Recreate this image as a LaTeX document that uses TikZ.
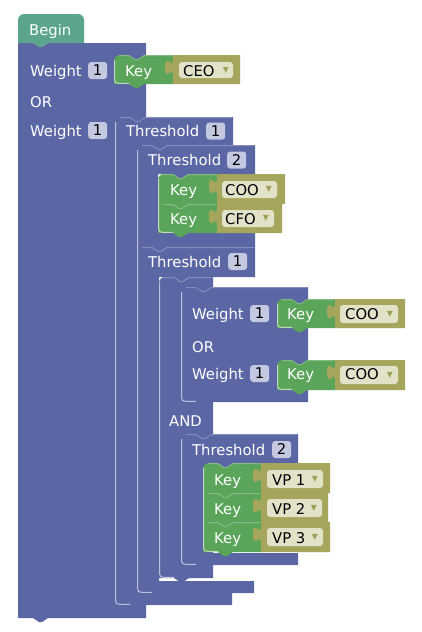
\documentclass[tikz,border=0pt]{standalone}
\usepackage{fontspec}
\setmainfont{DejaVu Sans}
\definecolor{blk}{HTML}{5B67A5}
\definecolor{beg}{HTML}{5BA58C}
\definecolor{grn}{HTML}{5BA55B}
\definecolor{olv}{HTML}{A5A55B}
\definecolor{ddc}{HTML}{E2E2C9}
\definecolor{bdg}{HTML}{C4C8E1}
\definecolor{arrc}{HTML}{9E9E55}
\newcommand\bfnt{\fontsize{14.8}{17}\selectfont}
% rectangular block: color, x0, y0, x1, y1, corner radius
\newcommand\blkR[6]{%
 \fill[#1] (#2,#3+#6) .. controls (#2,#3+0.45*#6) and (#2+0.45*#6,#3) .. (#2+#6,#3)
  -- (#2+15,#3) -- (#2+21,#3+4) -- (#2+24,#3+4) -- (#2+30,#3) -- (#4,#3) -- (#4,#5)
  -- (#2+30,#5) -- (#2+24,#5+4) -- (#2+21,#5+4) -- (#2+15,#5) -- (#2,#5) -- cycle;}
% C-shaped block: x0, y0, x1, yrow, xcol, ybar, xbar, y1, radius
\newcommand\blkC[9]{%
 \fill[blk] (#1,#2+#9) .. controls (#1,#2+0.45*#9) and (#1+0.45*#9,#2) .. (#1+#9,#2)
  -- (#1+15,#2) -- (#1+21,#2+4) -- (#1+24,#2+4) -- (#1+30,#2) -- (#3,#2) -- (#3,#4)
  -- (#5+30,#4) -- (#5+24,#4+4) -- (#5+21,#4+4) -- (#5+15,#4) -- (#5,#4) -- (#5,#6)
  -- (#7,#6) -- (#7,#8) -- (#1+30,#8) -- (#1+24,#8+4) -- (#1+21,#8+4) -- (#1+15,#8)
  -- (#1,#8) -- cycle;}
% olive value block with output tab: x0, y0, x1, y1
\newcommand\olvB[4]{%
 \fill[olv] (#1,#2) -- (#3,#2) -- (#3,#4) -- (#1,#4) -- (#1,#2+20)
  .. controls (#1,#2+10) and (#1-8,#2+28) .. (#1-8,#2+12.5)
  .. controls (#1-8,#2-3) and (#1,#2+15) .. (#1,#2+5) -- cycle;}
% left/bottom highlight: x, ytop, ybottom
\newcommand\hlL[3]{%
 \draw[hl] (#1+0.6,#2+5) -- (#1+0.6,#3-4) .. controls (#1+0.6,#3-1.6) and (#1+2,#3-0.6) .. (#1+5,#3-0.6) -- (#1+15,#3-0.6);}
% top highlight: x0, y0, x1
\newcommand\hlT[3]{%
 \draw[hlt] (#1+5,#2+0.6) -- (#1+15,#2+0.6) -- (#1+21,#2+4.6) -- (#1+24,#2+4.6) -- (#1+30,#2+0.6) -- (#3-0.6,#2+0.6);}
\tikzset{
 lbl/.style={anchor=base west, inner sep=0pt, text=white, font=\bfnt},
 vtxt/.style={anchor=base west, inner sep=0pt, text=black, font=\bfnt},
 badge/.style={anchor=west, fill=bdg, rounded corners=3pt, minimum width=19pt, minimum height=17pt, inner sep=0pt, text=black, font=\bfnt},
 ddarrow/.style={inner sep=0pt, text=arrc, font=\fontsize{12}{13}\selectfont},
 ddbox/.style={fill=ddc, rounded corners=3pt},
 hl/.style={draw=white, draw opacity=0.6, line width=1pt},
 hlt/.style={draw=white, draw opacity=0.25, line width=0.8pt},
}
\begin{document}
\begin{tikzpicture}[x=1pt,y=-1pt]
\useasboundingbox (0,0) rectangle (421,632);
\fill[white] (0,0) rectangle (421,632);

% main block and Begin
\blkR{blk}{18}{43}{146}{618}{0}
\fill[beg] (18,43) -- (18,20) .. controls (18,16.7) and (20.7,14) .. (24,14) -- (78,14)
  .. controls (81.3,14) and (84,16.7) .. (84,20) -- (84,43) -- (48,43) -- (42,47) -- (39,47) -- (33,43) -- cycle;

% Key CEO
\blkR{grn}{114}{55}{173}{84}{6}
\olvB{173}{55}{240}{84}

% Threshold 1 outer
\blkC{115}{117}{233}{145}{137}{593}{232}{605}{6}
% Threshold 2 upper
\blkC{137}{145}{255}{174}{158}{233}{255}{247}{6}
\blkR{grn}{158}{174}{217}{204}{6}
\blkR{grn}{158}{204}{217}{233}{0}
\olvB{217}{174}{285}{204}
\olvB{217}{204}{282}{233}
% Threshold 1 inner
\blkC{137}{247}{255}{277}{159}{581}{254}{593}{0}
% AND block
\blkR{blk}{159}{277}{213}{578}{6}
% Weight / OR inner
\blkR{blk}{181}{287}{308}{402}{6}
\blkR{grn}{277}{299}{335}{328}{6}
\olvB{335}{299}{405}{328}
\blkR{grn}{277}{360}{335}{390}{6}
\olvB{335}{360}{405}{390}
% Threshold 2 lower
\blkC{181}{434}{298}{463}{203}{553}{298}{565}{6}
\blkR{grn}{203}{463}{261}{493}{6}
\blkR{grn}{203}{493}{261}{522}{0}
\blkR{grn}{203}{522}{261}{552}{0}
\olvB{261}{463}{330}{493}
\olvB{261}{493}{328}{522}
\olvB{261}{522}{330}{552}

% highlights
\hlT{115}{117}{233}
\hlT{137}{145}{255}
\hlT{137}{247}{255}
\hlT{159}{277}{213}
\hlT{181}{287}{308}
\hlT{181}{434}{298}
\hlT{114}{55}{173}
\hlT{158}{174}{217}
\hlT{158}{204}{217}
\hlT{277}{299}{335}
\hlT{277}{360}{335}
\hlT{203}{463}{261}
\hlT{203}{493}{261}
\hlT{203}{522}{261}
\hlL{114}{55}{84}
\hlL{115}{117}{605}
\hlL{137}{145}{593}
\hlL{158}{174}{233}
\hlL{159}{277}{578}
\hlL{181}{287}{402}
\hlL{277}{299}{328}
\hlL{277}{360}{390}
\hlL{181}{434}{565}
\hlL{203}{463}{552}

% dropdown fields
\fill[ddbox] (179,62) rectangle (233,78);
\fill[ddbox] (222,181) rectangle (277,198);
\fill[ddbox] (222,210) rectangle (274,227);
\fill[ddbox] (340,305) rectangle (398,323);
\fill[ddbox] (340,366) rectangle (398,384);
\fill[ddbox] (267,470) rectangle (323,488);
\fill[ddbox] (267,499) rectangle (322,517);
\fill[ddbox] (267,528) rectangle (323,546);

% texts
\node[lbl] (tBegin) at (29,35) {Begin};
\node[lbl] (tW1) at (30,76) {Weight};
\node[badge] (bW1) at (88,70.5) {1};
\node[lbl] (tOR1) at (30,107) {OR};
\node[lbl] (tW2) at (30,136) {Weight};
\node[badge] (bW2) at (88,130.5) {1};

\node[lbl] (kCEO) at (125,76) {Key};
\node[vtxt] (vCEO) at (183,76) {CEO};
\node[ddarrow] (aCEO) at (226,70) {▾};

\node[lbl] (tT1) at (126,136.5) {Threshold};
\node[badge] (bT1) at (206,131) {1};

\node[lbl] (tT2) at (148,165.5) {Threshold};
\node[badge] (bT2) at (227,160) {2};
\node[lbl] (kCOO) at (170,195) {Key};
\node[vtxt] (vCOO) at (225,195) {COO};
\node[ddarrow] (aCOO) at (269,189.5) {▾};
\node[lbl] (kCFO) at (170,224) {Key};
\node[vtxt] (vCFO) at (225,224) {CFO};
\node[ddarrow] (aCFO) at (266,218.5) {▾};

\node[lbl] (tT3) at (148,267) {Threshold};
\node[badge] (bT3) at (228,261.5) {1};

\node[lbl] (tW3) at (192,319) {Weight};
\node[badge] (bW3) at (250,313.5) {1};
\node[lbl] (tOR2) at (192,352) {OR};
\node[lbl] (tW4) at (192,379) {Weight};
\node[badge] (bW4) at (250,373.5) {1};
\node[lbl] (kC1) at (287,319.5) {Key};
\node[vtxt] (vC1) at (345,319.5) {COO};
\node[ddarrow] (aC1) at (390,314) {▾};
\node[lbl] (kC2) at (287,379.5) {Key};
\node[vtxt] (vC2) at (345,379.5) {COO};
\node[ddarrow] (aC2) at (390,375) {▾};

\node[lbl] (tAND) at (169,426) {AND};

\node[lbl] (tT4) at (192,455) {Threshold};
\node[badge] (bT4) at (272,449.5) {2};
\node[lbl] (kV1) at (214,485) {Key};
\node[vtxt] (vV1) at (272,485) {VP 1};
\node[ddarrow] (aV1) at (315,479) {▾};
\node[lbl] (kV2) at (214,514) {Key};
\node[vtxt] (vV2) at (272,514) {VP 2};
\node[ddarrow] (aV2) at (314,508) {▾};
\node[lbl] (kV3) at (214,543) {Key};
\node[vtxt] (vV3) at (272,543) {VP 3};
\node[ddarrow] (aV3) at (315,537) {▾};
\end{tikzpicture}
\end{document}
